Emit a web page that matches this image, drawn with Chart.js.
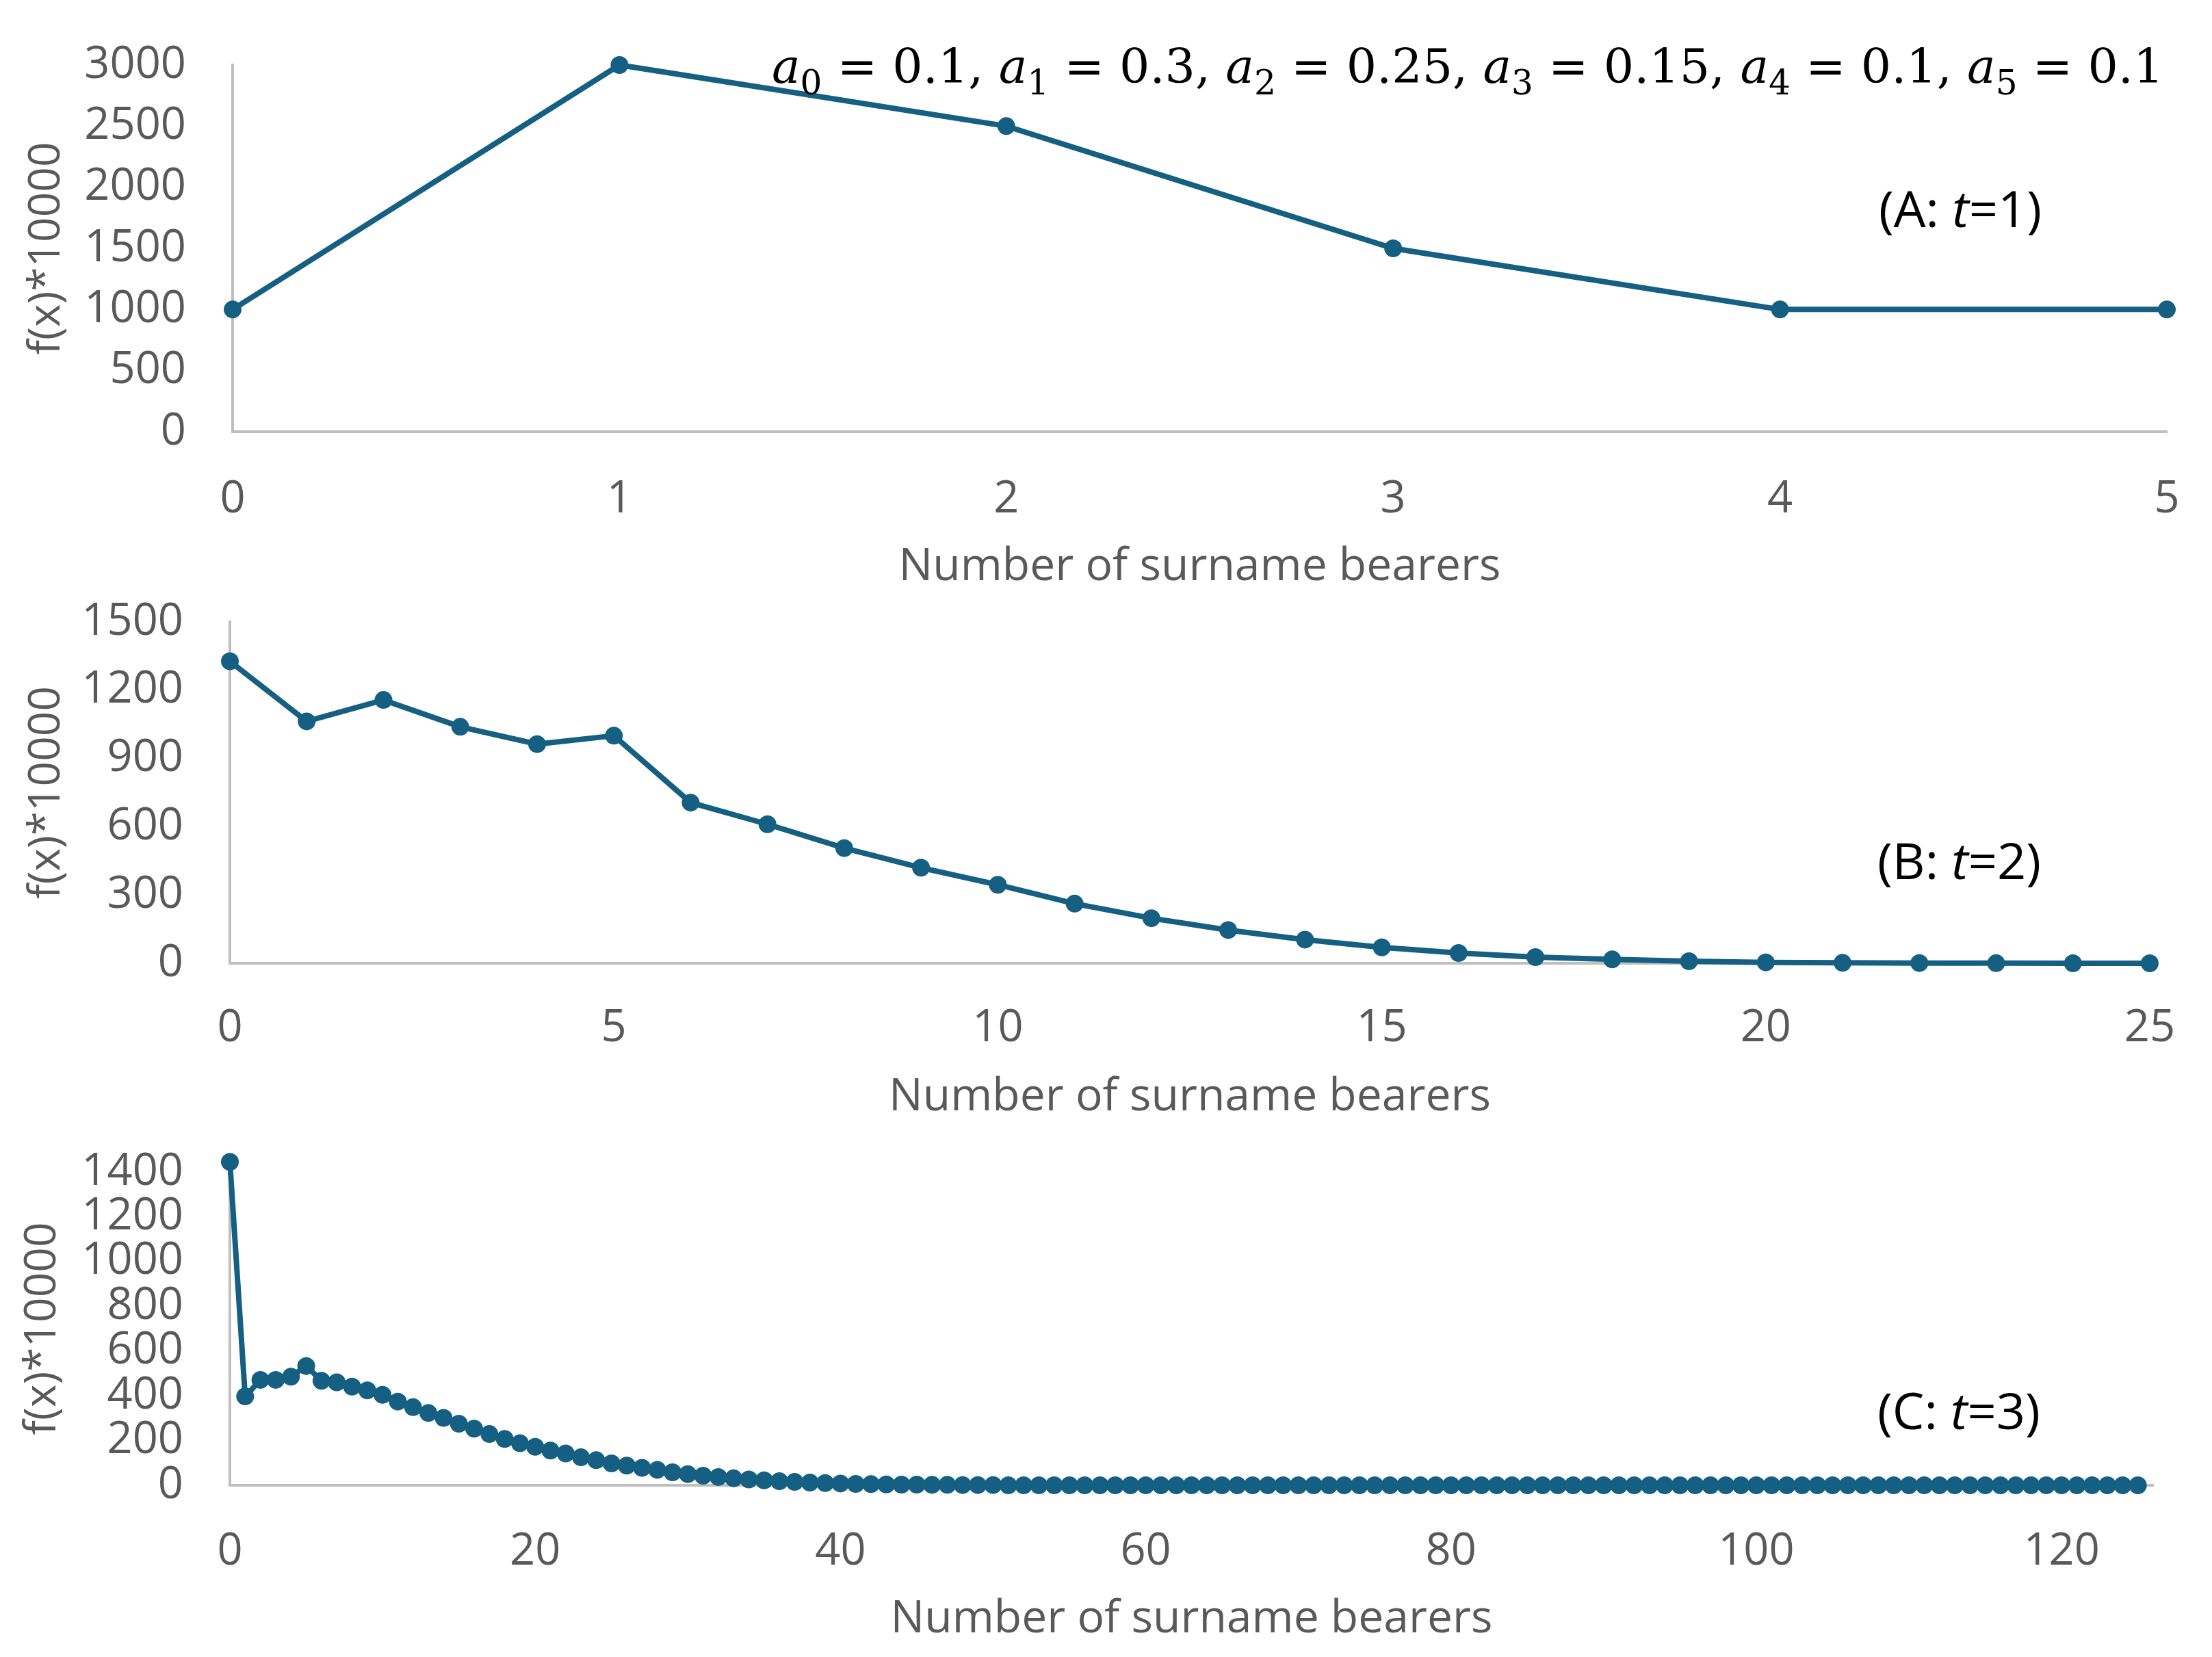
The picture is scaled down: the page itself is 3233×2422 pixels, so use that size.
<!DOCTYPE html>
<html><head><meta charset="utf-8">
<script src="https://cdn.jsdelivr.net/npm/chart.js@4"></script>
<style>
html,body{margin:0;padding:0;background:#fff;}
#wrap{position:relative;width:3233px;height:2422px;background:#fff;}
canvas{position:absolute;left:0;top:0;}
</style></head><body><div id="wrap">
<canvas id="cA" width="3233" height="2422"></canvas>
<canvas id="cB" width="3233" height="2422"></canvas>
<canvas id="cC" width="3233" height="2422"></canvas>
</div>
<script>
// ---- data ----
const coeffs = ['0.1', '0.3', '0.25', '0.15', '0.1', '0.1'];
const xA = [0, 1, 2, 3, 4, 5];
const fA = [1000, 3000, 2500, 1500, 1000, 1000];
const fB = [1327, 1063, 1157, 1039, 963, 1000, 706, 611, 506, 420, 345, 262, 198, 146, 104, 70, 45, 27, 17, 9, 4, 2, 1, 0.5, 0.2, 0.1];
const fC = [1445, 397, 471, 471, 485, 533, 467, 460, 441, 424,
            404, 374, 349, 323, 301, 275, 253, 229, 207, 188,
            172, 155, 142, 125, 112, 98, 88, 78, 69, 58,
            50, 43, 37, 31, 26, 22, 18, 15, 12, 10,
            8, 6, 5, 4, 3, 3, 2, 2, 1, 1,
            1, 0, 0, 0, 0, 0, 0, 0, 0, 0,
            0, 0, 0, 0, 0, 0, 0, 0, 0, 0,
            0, 0, 0, 0, 0, 0, 0, 0, 0, 0,
            0, 0, 0, 0, 0, 0, 0, 0, 0, 0,
            0, 0, 0, 0, 0, 0, 0, 0, 0, 0,
            0, 0, 0, 0, 0, 0, 0, 0, 0, 0,
            0, 0, 0, 0, 0, 0, 0, 0, 0, 0,
            0, 0, 0, 0, 0, 0];
const xTicksA = [0, 1, 2, 3, 4, 5];
const yTicksA = [0, 500, 1000, 1500, 2000, 2500, 3000];
const xTicksB = [0, 5, 10, 15, 20, 25];
const yTicksB = [0, 300, 600, 900, 1200, 1500];
const xTicksC = [0, 20, 40, 60, 80, 100, 120];
const yTicksC = [0, 200, 400, 600, 800, 1000, 1200, 1400];
const xTitle = 'Number of surname bearers';
const yTitle = 'f(x)*10000';
const panelLabels = [['(A: ', 't', '=1)'], ['(B: ', 't', '=2)'], ['(C: ', 't', '=3)']];

// ---- styling ----
const W = 3233, H = 2422;
const LINE = '#156082';
const TICK = '#595959';
const AXIS = '#BFBFBF';
const FONT = "'Open Sans', 'Noto Sans', sans-serif";

function labelPlugin(idx, x, y) {
  return {
    id: 'panelLabel' + idx,
    afterDraw(chart) {
      const ctx = chart.ctx;
      const p = panelLabels[idx];
      ctx.save();
      ctx.fillStyle = '#000';
      ctx.textBaseline = 'middle';
      let cx = x;
      ctx.font = "74px " + FONT; ctx.fillText(p[0], cx, y); cx += ctx.measureText(p[0]).width;
      ctx.font = "italic 74px " + FONT; ctx.fillText(p[1], cx, y); cx += ctx.measureText(p[1]).width;
      ctx.font = "74px " + FONT; ctx.fillText(p[2], cx, y);
      ctx.restore();
    }
  };
}

// draw markers that lie outside the plot area (Excel shows them)
const outsidePoints = {
  id: 'outsidePoints',
  afterDatasetsDraw(chart) {
    const meta = chart.getDatasetMeta(0);
    const a = chart.chartArea;
    const big = {left: 0, top: 0, right: W, bottom: H};
    meta.data.forEach(el => {
      if (el.y < a.top - 1) el.draw(chart.ctx, big);
    });
  }
};

const formulaPlugin = {
  id: 'formula',
  afterDraw(chart) {
    const ctx = chart.ctx;
    const SERIF = "'DejaVu Serif', 'Liberation Serif', serif";
    const parts = [];
    coeffs.forEach((c, i) => {
      parts.push({t: 'a', it: true});
      parts.push({t: String(i), sub: true});
      parts.push({t: ' = ' + c + (i < coeffs.length - 1 ? ', ' : '')});
    });
    const fontFor = (p, s) => (p.it ? 'italic ' : '') + (p.sub ? s * 0.72 : s) + 'px ' + SERIF;
    let base = 100, tot = 0;
    ctx.save();
    parts.forEach(p => { ctx.font = fontFor(p, base); tot += ctx.measureText(p.t).width; });
    const targetW = 2035;
    const s = base * targetW / tot;
    let cx = 3163 - targetW;
    const baseY = 121;
    ctx.fillStyle = '#000';
    ctx.textBaseline = 'alphabetic';
    parts.forEach(p => {
      ctx.font = fontFor(p, s);
      ctx.fillText(p.t, cx, p.sub ? baseY + s * 0.24 : baseY);
      cx += ctx.measureText(p.t).width;
    });
    ctx.restore();
  }
};

function noPad(s) { s.paddingLeft = 0; s.paddingRight = 0; s.paddingTop = 0; s.paddingBottom = 0; }

function makeChart(id, xs, ys, o, plugins) {
  const pts = ys.map((v, i) => ({x: xs ? xs[i] : i, y: v}));
  return new Chart(document.getElementById(id), {
    type: 'line',
    data: {datasets: [{
      data: pts,
      borderColor: LINE, backgroundColor: LINE,
      borderWidth: 8, pointRadius: o.r, pointHoverRadius: o.r,
      pointBackgroundColor: LINE, pointBorderWidth: 0,
      tension: 0, clip: false
    }]},
    options: {
      responsive: false, animation: false,
      layout: {padding: {left: 0, top: o.area.top, right: W - o.area.right, bottom: H - o.area.bottom - o.xh}},
      plugins: {legend: {display: false}, tooltip: {enabled: false}},
      scales: {
        x: {
          type: 'linear', min: o.xmin, max: o.xmax,
          grid: {display: false, drawTicks: false},
          border: {display: true, color: AXIS, width: 4},
          ticks: {color: TICK, font: {size: 65, family: FONT}, padding: o.xpad, maxRotation: 0, autoSkip: false,
                  callback: v => String(v)},
          afterBuildTicks: s => { s.ticks = o.xt.map(v => ({value: v})); },
          title: {display: true, text: xTitle, color: TICK, font: {size: 66, family: FONT}, padding: {top: 0, bottom: 6}},
          afterFit: s => { s.height = o.xh; noPad(s); }
        },
        y: {
          type: 'linear', min: o.ymin, max: o.ymax,
          grid: {display: false, drawTicks: false},
          border: {display: true, color: AXIS, width: 4},
          ticks: {color: TICK, font: {size: 65, family: FONT}, padding: 68, autoSkip: false,
                  callback: v => String(v)},
          afterBuildTicks: s => { s.ticks = o.yt.map(v => ({value: v})); },
          title: {display: true, text: yTitle, color: TICK, font: {size: 64, family: FONT}, padding: {top: o.ytp, bottom: 0}},
          afterFit: s => { s.width = o.area.left; noPad(s); }
        }
      }
    },
    plugins: plugins
  });
}

makeChart('cA', xA, fA, {
  area: {left: 340, top: 95, right: 3167, bottom: 631}, xh: 244,
  xmin: 0, xmax: 5, xt: xTicksA, ymin: 0, ymax: 3000, yt: yTicksA, xpad: 60, ytp: 30, r: 13
}, [formulaPlugin, labelPlugin(0, 2746, 311)]);

makeChart('cB', null, fB, {
  area: {left: 336, top: 909, right: 3142, bottom: 1408}, xh: 242,
  xmin: 0, xmax: 25, xt: xTicksB, ymin: 0, ymax: 1500, yt: yTicksB, xpad: 56, ytp: 30, r: 13
}, [labelPlugin(1, 2744, 1264)]);

makeChart('cC', null, fC, {
  area: {left: 336, top: 1713, right: 3147, bottom: 2171}, xh: 242,
  xmin: 0, xmax: 126, xt: xTicksC, ymin: 0, ymax: 1400, yt: yTicksC, xpad: 58, ytp: 24, r: 13
}, [outsidePoints, labelPlugin(2, 2744, 2068)]);
</script>
</body></html>
